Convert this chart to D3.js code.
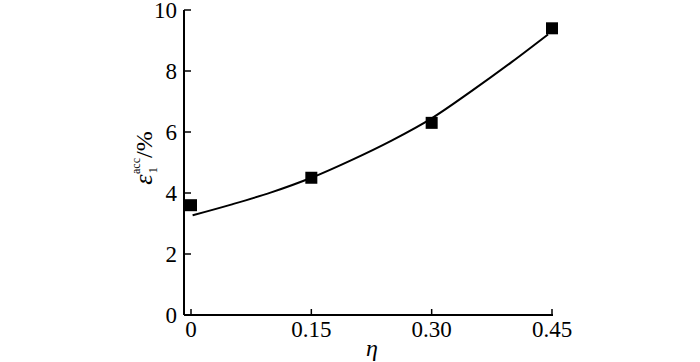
<!DOCTYPE html>
<html>
<head>
<meta charset="utf-8">
<script src="https://cdn.jsdelivr.net/npm/d3@7"></script>
<style>
  body { margin: 0; background: #fff; }
</style>
</head>
<body>
<script>
var width = 700,
    height = 362;

// measured points
var eta = [0, 0.15, 0.30, 0.45];
var strain = [3.6, 4.5, 6.3, 9.4];

// fitted curve
var fitEta = [0.002, 0.05, 0.10, 0.15, 0.20, 0.25, 0.30, 0.35, 0.40, 0.445];
var fitStrain = [3.27, 3.62, 4.02, 4.50, 5.08, 5.72, 6.45, 7.35, 8.30, 9.20];

var xTicks = [0, 0.15, 0.30, 0.45];
var xTickLabels = ["0", "0.15", "0.30", "0.45"];
var yTicks = [0, 2, 4, 6, 8, 10];

var FONT = "Liberation Serif";

var svg = d3.select("body").append("svg")
    .attr("width", width)
    .attr("height", height);

var x = d3.scaleLinear().domain([0, 0.45]).range([191, 552]);
var y = d3.scaleLinear().domain([0, 10]).range([315, 10]);

var axisLeft = 184;

// axes lines
svg.append("line")
  .attr("x1", axisLeft).attr("x2", axisLeft)
  .attr("y1", y(10)).attr("y2", y(0))
  .attr("stroke", "#000").attr("stroke-width", 2);
svg.append("line")
  .attr("x1", axisLeft).attr("x2", x(0.45) + 1)
  .attr("y1", y(0)).attr("y2", y(0))
  .attr("stroke", "#000").attr("stroke-width", 2);

// y ticks (inward)
var yt = svg.append("g").attr("class", "yticks");
yt.selectAll("line").data(yTicks).enter().append("line")
  .attr("x1", axisLeft).attr("x2", axisLeft + 7)
  .attr("y1", function(d) { return y(d); })
  .attr("y2", function(d) { return y(d); })
  .attr("stroke", "#000").attr("stroke-width", 1.5);
yt.selectAll("text").data(yTicks).enter().append("text")
  .attr("x", axisLeft - 7)
  .attr("y", function(d) { return y(d) + 8; })
  .attr("text-anchor", "end")
  .attr("font-family", FONT)
  .attr("font-size", 23)
  .text(function(d) { return d; });

// x ticks (inward)
var xt = svg.append("g").attr("class", "xticks");
xt.selectAll("line").data(xTicks).enter().append("line")
  .attr("x1", function(d) { return x(d); })
  .attr("x2", function(d) { return x(d); })
  .attr("y1", y(0)).attr("y2", y(0) - 6)
  .attr("stroke", "#000").attr("stroke-width", 1.5);
xt.selectAll("text").data(xTicks).enter().append("text")
  .attr("x", function(d) { return x(d); })
  .attr("y", y(0) + 22)
  .attr("text-anchor", "middle")
  .attr("font-family", FONT)
  .attr("font-size", 23)
  .text(function(d, i) { return xTickLabels[i]; });

// axis titles
svg.append("text")
  .attr("x", 372).attr("y", 356)
  .attr("text-anchor", "middle")
  .attr("font-family", FONT)
  .attr("font-size", 24)
  .attr("font-style", "italic")
  .text("η");

var yl = svg.append("text")
  .attr("transform", "translate(152,158) rotate(-90)")
  .attr("text-anchor", "middle")
  .attr("font-family", FONT)
  .attr("font-size", 26);
yl.append("tspan").attr("font-style", "italic").text("ε");
yl.append("tspan").attr("font-size", 13).attr("dy", 5).attr("dx", 1).text("1");
yl.append("tspan").attr("font-size", 12).attr("dy", -17).attr("dx", -7).text("acc");
yl.append("tspan").attr("font-size", 24).attr("dy", 12).text("/%");

// fitted curve
var fitData = fitEta.map(function(d, i) { return [d, fitStrain[i]]; });
var line = d3.line()
  .x(function(d) { return x(d[0]); })
  .y(function(d) { return y(d[1]); })
  .curve(d3.curveMonotoneX);
svg.append("path")
  .datum(fitData)
  .attr("d", line)
  .attr("fill", "none")
  .attr("stroke", "#000")
  .attr("stroke-width", 2);

// squares
var s = 12;
svg.append("g").selectAll("rect")
  .data(eta.map(function(d, i) { return [d, strain[i]]; }))
  .enter().append("rect")
  .attr("x", function(d) { return x(d[0]) - s / 2; })
  .attr("y", function(d) { return y(d[1]) - s / 2; })
  .attr("width", s).attr("height", s)
  .attr("fill", "#000");
</script>
</body>
</html>
